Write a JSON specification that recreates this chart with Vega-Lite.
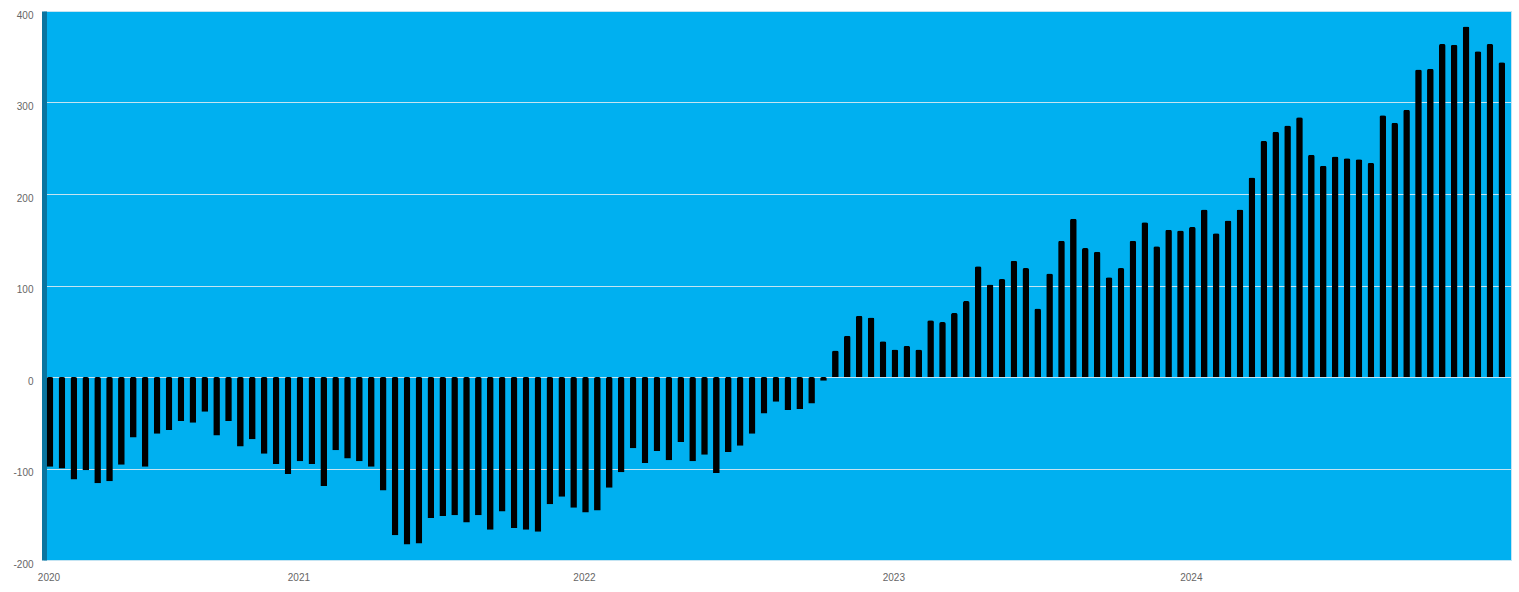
{
  "$schema": "https://vega.github.io/schema/vega-lite/v6.json",
  "width": 1467,
  "height": 549,
  "autosize": {"type": "none"},
  "padding": {"left": 44, "top": 11, "right": 8, "bottom": 32},
  "background": "#ffffff",
  "config": {"view": {"fill": "#00B0F0", "stroke": "#C4E4F2", "strokeWidth": 1}},
  "data": {"values": [
    {"period": "2020-01", "value": -98}, {"period": "2020-02", "value": -100}, {"period": "2020-03", "value": -112},
    {"period": "2020-04", "value": -102}, {"period": "2020-05", "value": -116}, {"period": "2020-06", "value": -114},
    {"period": "2020-07", "value": -96}, {"period": "2020-08", "value": -66}, {"period": "2020-09", "value": -98},
    {"period": "2020-10", "value": -62}, {"period": "2020-11", "value": -58}, {"period": "2020-12", "value": -48},
    {"period": "2020-13", "value": -50}, {"period": "2020-14", "value": -38}, {"period": "2020-15", "value": -64},
    {"period": "2020-16", "value": -48}, {"period": "2020-17", "value": -76}, {"period": "2020-18", "value": -68},
    {"period": "2020-19", "value": -84}, {"period": "2020-20", "value": -95}, {"period": "2020-21", "value": -106},
    {"period": "2021-01", "value": -92}, {"period": "2021-02", "value": -95}, {"period": "2021-03", "value": -119},
    {"period": "2021-04", "value": -80}, {"period": "2021-05", "value": -89}, {"period": "2021-06", "value": -92},
    {"period": "2021-07", "value": -98}, {"period": "2021-08", "value": -124}, {"period": "2021-09", "value": -173},
    {"period": "2021-10", "value": -183}, {"period": "2021-11", "value": -182}, {"period": "2021-12", "value": -154},
    {"period": "2021-13", "value": -152}, {"period": "2021-14", "value": -151}, {"period": "2021-15", "value": -159},
    {"period": "2021-16", "value": -151}, {"period": "2021-17", "value": -167}, {"period": "2021-18", "value": -147},
    {"period": "2021-19", "value": -165}, {"period": "2021-20", "value": -167}, {"period": "2021-21", "value": -169},
    {"period": "2021-22", "value": -139}, {"period": "2021-23", "value": -131}, {"period": "2021-24", "value": -143},
    {"period": "2022-01", "value": -148}, {"period": "2022-02", "value": -146}, {"period": "2022-03", "value": -121},
    {"period": "2022-04", "value": -104}, {"period": "2022-05", "value": -78}, {"period": "2022-06", "value": -94},
    {"period": "2022-07", "value": -81}, {"period": "2022-08", "value": -91}, {"period": "2022-09", "value": -71},
    {"period": "2022-10", "value": -92}, {"period": "2022-11", "value": -85}, {"period": "2022-12", "value": -105},
    {"period": "2022-13", "value": -82}, {"period": "2022-14", "value": -75}, {"period": "2022-15", "value": -62},
    {"period": "2022-16", "value": -40}, {"period": "2022-17", "value": -27}, {"period": "2022-18", "value": -36},
    {"period": "2022-19", "value": -35}, {"period": "2022-20", "value": -29}, {"period": "2022-21", "value": -4},
    {"period": "2022-22", "value": 29}, {"period": "2022-23", "value": 45}, {"period": "2022-24", "value": 67},
    {"period": "2022-25", "value": 65}, {"period": "2022-26", "value": 39},
    {"period": "2023-01", "value": 30}, {"period": "2023-02", "value": 34}, {"period": "2023-03", "value": 30},
    {"period": "2023-04", "value": 62}, {"period": "2023-05", "value": 60}, {"period": "2023-06", "value": 70},
    {"period": "2023-07", "value": 83}, {"period": "2023-08", "value": 121}, {"period": "2023-09", "value": 101},
    {"period": "2023-10", "value": 107}, {"period": "2023-11", "value": 127}, {"period": "2023-12", "value": 119},
    {"period": "2023-13", "value": 75}, {"period": "2023-14", "value": 113}, {"period": "2023-15", "value": 149},
    {"period": "2023-16", "value": 173}, {"period": "2023-17", "value": 141}, {"period": "2023-18", "value": 137},
    {"period": "2023-19", "value": 109}, {"period": "2023-20", "value": 119}, {"period": "2023-21", "value": 149},
    {"period": "2023-22", "value": 169}, {"period": "2023-23", "value": 143}, {"period": "2023-24", "value": 161},
    {"period": "2023-25", "value": 160},
    {"period": "2024-01", "value": 164}, {"period": "2024-02", "value": 183}, {"period": "2024-03", "value": 157},
    {"period": "2024-04", "value": 171}, {"period": "2024-05", "value": 183}, {"period": "2024-06", "value": 218},
    {"period": "2024-07", "value": 258}, {"period": "2024-08", "value": 268}, {"period": "2024-09", "value": 275},
    {"period": "2024-10", "value": 284}, {"period": "2024-11", "value": 243}, {"period": "2024-12", "value": 231},
    {"period": "2024-13", "value": 241}, {"period": "2024-14", "value": 239}, {"period": "2024-15", "value": 238},
    {"period": "2024-16", "value": 234}, {"period": "2024-17", "value": 286}, {"period": "2024-18", "value": 278},
    {"period": "2024-19", "value": 292}, {"period": "2024-20", "value": 336}, {"period": "2024-21", "value": 337},
    {"period": "2024-22", "value": 364}, {"period": "2024-23", "value": 363}, {"period": "2024-24", "value": 383},
    {"period": "2024-25", "value": 356}, {"period": "2024-26", "value": 364}, {"period": "2024-27", "value": 344}
  ]},
  "mark": {"type": "bar", "color": "#000000", "cornerRadiusEnd": 2},
  "encoding": {
    "x": {
      "field": "period",
      "type": "ordinal",
      "sort": null,
      "scale": {"paddingInner": 0.44, "paddingOuter": 0.36, "align": 0.31},
      "axis": {
        "title": null,
        "values": ["2020-01", "2021-01", "2022-01", "2023-01", "2024-01"],
        "labelExpr": "slice(datum.value, 0, 4)",
        "labelAngle": 0,
        "domain": false,
        "ticks": false,
        "grid": false,
        "labelPadding": 12,
        "labelOffset": -1,
        "labelFont": "Liberation Sans",
        "labelFontSize": 10,
        "labelColor": "#666666"
      }
    },
    "y": {
      "field": "value",
      "type": "quantitative",
      "scale": {"domain": [-200, 400], "nice": false},
      "axis": {
        "title": null,
        "values": [-200, -100, 0, 100, 200, 300, 400],
        "labelExpr": "replace(datum.label, '\u2212', '-')",
        "grid": true,
        "gridColor": "#C4E4F2",
        "gridWidth": 1.2,
        "domain": true,
        "domainColor": "#0A75A0",
        "domainWidth": 5,
        "ticks": false,
        "labelPadding": 11,
        "labelOffset": 4,
        "labelFont": "Liberation Sans",
        "labelFontSize": 10,
        "labelColor": "#666666"
      }
    }
  }
}
